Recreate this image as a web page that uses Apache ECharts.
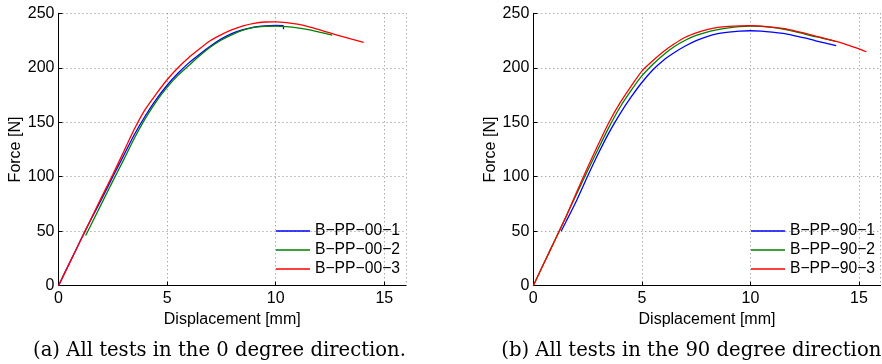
<!DOCTYPE html>
<html>
<head>
<meta charset="utf-8">
<script src="https://cdn.jsdelivr.net/npm/echarts@6/dist/echarts.min.js"></script>
<style>html,body{margin:0;padding:0;background:#fff}#c{width:882px;height:364px}</style>
</head>
<body>
<div id="c"></div>
<script>
// ---- Data (Displacement [mm], Force [N]) ----
const leftNames = ['B\u2212PP\u221200\u22121', 'B\u2212PP\u221200\u22122', 'B\u2212PP\u221200\u22123'];
const rightNames = ['B\u2212PP\u221290\u22121', 'B\u2212PP\u221290\u22122', 'B\u2212PP\u221290\u22123'];

const l1x = [0, 0.5, 1.0, 1.5, 2.0, 2.5, 3.0, 3.5, 4.0, 4.5, 5.0, 5.5, 6.0, 6.5, 7.0, 7.5, 8.0, 8.5, 9.0, 9.5, 10.0, 10.35, 10.36];
const l1y = [0, 20.5, 41, 61, 80, 100, 119.5, 139, 156, 171, 184, 195, 204.5, 212.5, 220, 226.5, 231.5, 235, 237.3, 238.5, 238.8, 238.5, 235.3];
const l2x = [1.25, 1.5, 2.0, 2.5, 3.0, 3.5, 4.0, 4.5, 5.0, 5.5, 6.0, 6.5, 7.0, 7.5, 8.0, 8.5, 9.0, 9.5, 10.0, 10.5, 11.0, 11.5, 12.0, 12.6];
const l2y = [46, 56, 76, 96, 115.5, 135.5, 153.5, 169, 182, 193, 202, 211, 219, 225.5, 230.5, 234.5, 237, 238, 238.3, 237.8, 236.7, 235, 232.8, 230];
const l3x = [0, 0.5, 1.0, 1.5, 2.0, 2.5, 3.0, 3.5, 4.0, 4.5, 5.0, 5.5, 6.0, 6.5, 7.0, 7.5, 8.0, 8.5, 9.0, 9.5, 10.0, 10.5, 11.0, 11.5, 12.0, 12.5, 13.0, 13.5, 14.05];
const l3y = [0, 20.5, 41, 61.5, 82, 102, 123, 144, 162, 176, 189, 200, 209.5, 217.5, 225, 230.5, 235, 238.5, 240.8, 242, 242.2, 241.5, 240, 237.8, 235, 232, 229, 226.2, 223.3];

const r1x = [1.28, 1.5, 2.0, 2.5, 3.0, 3.5, 4.0, 4.5, 5.0, 5.5, 6.0, 6.5, 7.0, 7.5, 8.0, 8.5, 9.0, 9.5, 10.0, 10.5, 11.0, 11.5, 12.0, 12.5, 13.0, 13.5, 13.95];
const r1y = [50, 58.5, 78.5, 100.5, 121.5, 141, 158, 173, 186.5, 198, 207, 214, 220, 225, 228.7, 231.3, 232.8, 233.7, 234, 233.7, 232.8, 231.5, 229.6, 227.5, 224.8, 222.5, 220.3];
const r2x = [0, 0.5, 1.0, 1.5, 2.0, 2.5, 3.0, 3.5, 4.0, 4.5, 5.0, 5.5, 6.0, 6.5, 7.0, 7.5, 8.0, 8.5, 9.0, 9.5, 10.0, 10.5, 11.0, 11.5, 12.0, 12.5, 13.0, 13.5, 13.9];
const r2y = [0, 21, 42, 63, 84.5, 105.5, 126, 146, 164, 179, 192.5, 203, 212, 219.5, 225.3, 229.7, 232.8, 235, 236.7, 237.8, 238.3, 238, 237, 235.5, 233.5, 231, 228.5, 226.3, 224.5];
const r3x = [0, 0.5, 1.0, 1.5, 2.0, 2.5, 3.0, 3.5, 4.0, 4.5, 5.0, 5.5, 6.0, 6.5, 7.0, 7.5, 8.0, 8.5, 9.0, 9.5, 10.0, 10.5, 11.0, 11.5, 12.0, 12.5, 13.0, 13.5, 14.0, 14.5, 15.0, 15.34];
const r3y = [0, 21, 42, 63, 86, 108.5, 130, 150.5, 168, 183, 197, 206.5, 215, 222, 228, 232, 235, 237, 238, 238.5, 238.6, 238.2, 237.4, 236.1, 234, 231.8, 229.1, 226.6, 224, 220.8, 217.4, 214.7];

const xTicks = [0, 5, 10, 15];
const yTicks = [0, 50, 100, 150, 200, 250];
const captions = ['(a) All tests in the 0 degree direction.', '(b) All tests in the 90 degree direction'];

const colors = ['#0000ff', '#008000', '#ff0000'];
const zip = (xs, ys) => xs.map((x, i) => [x, ys[i]]);

const FONT = 'Liberation Sans';
function xAxis(idx) {
  return {
    type: 'value', gridIndex: idx, min: xTicks[0], max: 16, interval: xTicks[1] - xTicks[0],
    name: 'Displacement [mm]', nameLocation: 'middle', nameGap: 19,
    nameTextStyle: { fontFamily: FONT, fontSize: 16, color: '#000' },
    axisLine: { show: true, lineStyle: { color: '#000', width: 1 } },
    axisTick: { show: true, inside: true, length: 4, lineStyle: { color: '#000' } },
    axisLabel: { fontFamily: FONT, fontSize: 16, color: '#000', margin: 5, showMaxLabel: false },
    splitLine: { show: true, lineStyle: { color: '#888', type: [1, 3], width: 1 } }
  };
}
function yAxis(idx) {
  return {
    type: 'value', gridIndex: idx, min: yTicks[0], max: yTicks[yTicks.length - 1], interval: yTicks[1] - yTicks[0],
    name: 'Force [N]', nameLocation: 'middle', nameGap: 35, nameRotate: 90,
    nameTextStyle: { fontFamily: FONT, fontSize: 16, color: '#000' },
    axisLine: { show: true, lineStyle: { color: '#000', width: 1 } },
    axisTick: { show: true, inside: true, length: 4, lineStyle: { color: '#000' } },
    axisLabel: { fontFamily: FONT, fontSize: 16, color: '#000', margin: 4 },
    splitLine: { show: true, lineStyle: { color: '#888', type: [1, 3], width: 1 } }
  };
}
function series(name, data, ci, idx) {
  return {
    type: 'line', name: name, xAxisIndex: idx, yAxisIndex: idx, data: data,
    symbol: 'none', smooth: 0.25,
    lineStyle: { color: colors[ci], width: 1.3 }, itemStyle: { color: colors[ci] },
    z: 3 + ci
  };
}
function legend(names, left) {
  return {
    orient: 'vertical', left: left, top: 223, padding: 0, itemGap: 3,
    itemWidth: 34, itemHeight: 1.6, icon: 'rect',
    textStyle: { fontFamily: FONT, fontSize: 15.7, color: '#000', lineHeight: 16 },
    data: names
  };
}

const chart = echarts.init(document.getElementById('c'), null, { renderer: 'canvas' });
chart.setOption({
  animation: false,
  backgroundColor: '#fff',
  grid: [
    { left: 58.5, right: 476, top: 13.3, bottom: 78.3 },
    { left: 533.3, right: 1.3, top: 13.3, bottom: 78.3 }
  ],
  xAxis: [xAxis(0), xAxis(1)],
  yAxis: [yAxis(0), yAxis(1)],
  legend: [legend(leftNames, 276), legend(rightNames, 751)],
  series: [
    series(leftNames[0], zip(l1x, l1y), 0, 0),
    series(leftNames[1], zip(l2x, l2y), 1, 0),
    series(leftNames[2], zip(l3x, l3y), 2, 0),
    series(rightNames[0], zip(r1x, r1y), 0, 1),
    series(rightNames[1], zip(r2x, r2y), 1, 1),
    series(rightNames[2], zip(r3x, r3y), 2, 1)
  ],
  graphic: [
    { type: 'text', x: 219.5, y: 351, style: { text: captions[0], font: '19.6px "DejaVu Serif"', fill: '#000', align: 'center', verticalAlign: 'middle' } },
    { type: 'text', x: 691.3, y: 351, style: { text: captions[1], font: '19.6px "DejaVu Serif"', fill: '#000', align: 'center', verticalAlign: 'middle' } }
  ]
});
</script>
</body>
</html>
